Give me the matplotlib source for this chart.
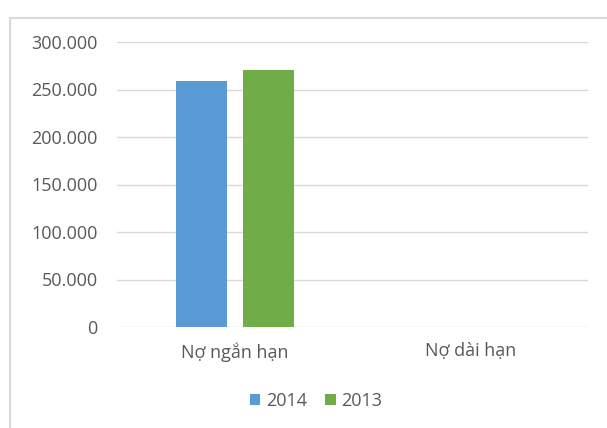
import matplotlib
matplotlib.use('Agg')
from matplotlib import pyplot as plt
from matplotlib.patches import Rectangle
import numpy as np

categories = ['Nợ ngắn hạn', 'Nợ dài hạn']
years = ['2014', '2013']
values_2014 = [259000, 0]
values_2013 = [270500, 0]
colors = ['#5b9bd5', '#70ad47']
yticks = [0, 50000, 100000, 150000, 200000, 250000, 300000]

plt.rcParams['font.family'] = ['Open Sans', 'DejaVu Sans']
text_color = '#595959'


def fmt(v):
    # Vietnamese style thousands separator
    return f'{int(v):,}'.replace(',', '.')


fig = plt.figure(figsize=(6.07, 4.28), dpi=100)
fig.patch.set_facecolor('white')
# chart frame (cut off on the right and bottom in the original)
fig.patches.append(Rectangle((10 / 607, -0.1), 1.2, 1 - 18 / 428 + 0.1,
                             transform=fig.transFigure, fill=False,
                             edgecolor='#d9d9d9', linewidth=1.5))

ax = fig.add_axes([117 / 607, 1 - 327 / 428, 471 / 607, 285 / 428])
x = np.arange(len(categories))
w = 0.217
gap = 0.068
ax.bar(x - (w + gap) / 2, values_2014, w, color=colors[0], label=years[0], zorder=3)
ax.bar(x + (w + gap) / 2, values_2013, w, color=colors[1], label=years[1], zorder=3)

ax.set_xlim(-0.5, 1.5)
ax.set_ylim(0, 300000)
ax.set_yticks(yticks)
ax.set_yticklabels([fmt(v) for v in yticks])
ax.set_xticks(x)
ax.set_xticklabels(categories)
ax.tick_params(axis='both', length=0, labelsize=13, labelcolor=text_color)
ax.tick_params(axis='y', pad=14)
ax.tick_params(axis='x', pad=11)
ax.grid(axis='y', color='#d9d9d9', linewidth=1, zorder=0)
for s in ax.spines.values():
    s.set_visible(False)

fig.legend(loc='center', bbox_to_anchor=(316 / 607, 1 - 401 / 428), ncol=2,
           frameon=False, fontsize=13, labelcolor=text_color,
           handlelength=0.6, handleheight=0.6, handletextpad=0.3, columnspacing=1.0)

fig.savefig('out.png', dpi=100)
